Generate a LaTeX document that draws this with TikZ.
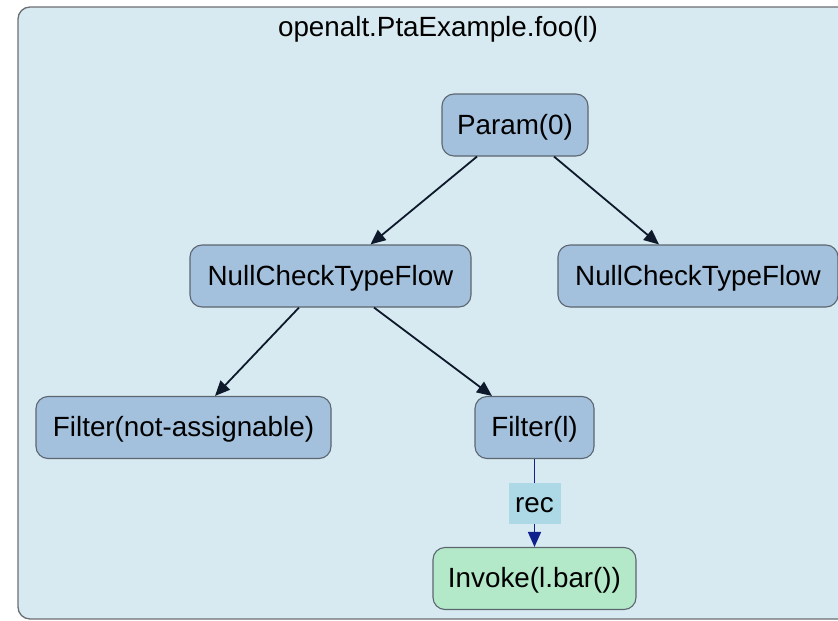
\documentclass[tikz,border=0pt]{standalone}
\usepackage{fontspec}
\setmainfont{Liberation Sans}
\usetikzlibrary{arrows.meta,calc}
\definecolor{clusterbg}{HTML}{D8EAF1}
\definecolor{clusterline}{HTML}{6B6F73}
\definecolor{nodefill}{HTML}{A3C1DD}
\definecolor{nodeline}{HTML}{5C6670}
\definecolor{callfill}{HTML}{B3E9C8}
\definecolor{edgedark}{HTML}{0E1A2B}
\definecolor{recline}{HTML}{10208C}
\definecolor{recfill}{HTML}{ADD8E6}
\tikzset{
  x=1pt, y=-1pt,
  every node/.style={font=\fontsize{27.8}{33}\selectfont, text=black,
    text height=24pt, text depth=5.4pt},
  opnode/.style={draw=nodeline, line width=1.1pt, fill=nodefill, rounded corners=12pt,
    minimum height=62pt, inner sep=0pt},
  callnode/.style={opnode, fill=callfill},
  flow/.style={draw=edgedark, line width=1.8pt, -{Triangle[length=15pt,width=13pt]}},
  recedge/.style={draw=recline, line width=1.6pt, -{Triangle[length=15pt,width=13pt]}},
  reclabel/.style={fill=recfill, inner sep=0pt, minimum width=52pt, minimum height=41pt}
}
\begin{document}
\begin{tikzpicture}
\useasboundingbox (0,0) rectangle (838,621);
% method cluster
\draw[fill=clusterbg, draw=clusterline, line width=1.3pt, rounded corners=12pt]
  (18,7) rectangle (860,619);
\node (title) at (438,27) {openalt.PtaExample.foo(l)};

% operator nodes
\node[opnode, minimum width=146pt] (param) at (515,125) {Param(0)};
\node[opnode, minimum width=281pt] (ncl) at (330.5,276) {NullCheckTypeFlow};
\node[opnode, minimum width=280pt] (ncr) at (698,276) {NullCheckTypeFlow};
\node[opnode, minimum width=295pt] (fna) at (183.5,427.5) {Filter(not-assignable)};
\node[opnode, minimum width=119pt] (fl) at (534.5,427.5) {Filter(l)};
\node[callnode, minimum width=203pt] (inv) at (534.5,578.5) {Invoke(l.bar())};

% data-flow edges
\draw[flow] ($(param.south)+(-38,0)$) -- ($(ncl.north)+(40,0)$);
\draw[flow] ($(param.south)+(39,0)$) -- ($(ncr.north)+(-39,0)$);
\draw[flow] ($(ncl.south)+(-31.5,0)$) -- ($(fna.north)+(31.5,0)$);
\draw[flow] ($(ncl.south)+(43.5,0)$) -- ($(fl.north)+(-42.5,0)$);

% receiver edge
\draw[recedge] (fl.south) -- node[reclabel] (rec) {rec} (inv.north);
\end{tikzpicture}
\end{document}
